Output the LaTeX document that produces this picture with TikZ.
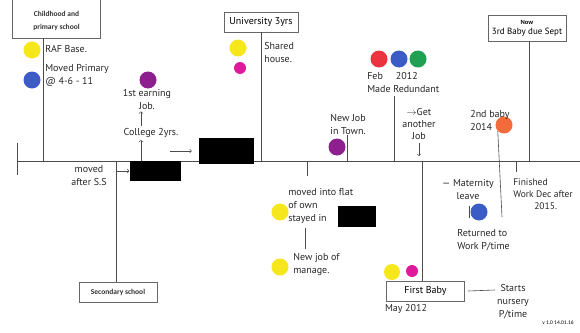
\documentclass[tikz,border=0pt]{standalone}
\usepackage{fontspec}
\setmainfont{Carlito}
\newfontfamily\handfont{PT Sans}
\usetikzlibrary{arrows}
\usetikzlibrary{shapes}

\definecolor{dotYellow}{HTML}{F6E71C}
\definecolor{dotBlue}{HTML}{3B5CC4}
\definecolor{dotPurple}{HTML}{8E1F8E}
\definecolor{dotMagenta}{HTML}{E0189C}
\definecolor{dotRed}{HTML}{EC3440}
\definecolor{dotGreen}{HTML}{1FA052}
\definecolor{dotOrange}{HTML}{F36B3A}

\begin{document}
\begin{tikzpicture}[x = 1pt, y = -1pt, font = \handfont\fontsize{10}{13}\selectfont, line width = 0.6pt]
	\tikzstyle{lineStyle} = [draw = black!70]
	\tikzstyle{boxStyle} = [shape = rectangle, draw = black!60, inner sep = 1pt]
	\tikzstyle{printStyle} = [font = \rmfamily\bfseries\fontsize{7.5}{12.5}\selectfont, align = center, text = black!80]
	\tikzstyle{handStyle} = [align = left, inner sep = 0pt, text = black!85]
	\tikzstyle{dotStyle} = [shape = circle, minimum size = 17pt, inner sep = 0pt]
	\tikzstyle{smallDotStyle} = [shape = circle, minimum size = 12pt, inner sep = 0pt]
	\tikzstyle{hiddenStyle} = [shape = rectangle, fill = black, inner sep = 0pt]
	\useasboundingbox (0,0) rectangle (580,332);
	\coordinate (tStart) at (17,161);
	\coordinate (tEnd) at (580,161);
	\coordinate (tChild) at (43,161);
	\coordinate (tSec) at (116,161);
	\coordinate (tFlat) at (307,161);
	\coordinate (tTown) at (347,161);
	\coordinate (tFeb) at (394,161);
	\coordinate (tFirst) at (422,161);
	\coordinate (tFinish) at (516,161);
	\coordinate (tNow) at (529,161);
	\coordinate (upA) at (141,0);
	\coordinate (flatLink) at (305,0);
	\coordinate (babyEnd) at (502,217);
	\draw[lineStyle] (tStart) -- (tEnd);
	\draw[lineStyle] ([yshift = 18pt]tStart) -- ([yshift = -14pt]tStart);
	% childhood and primary school
	\node[boxStyle, minimum width = 88pt, minimum height = 44pt] (childBox) at (56.5,16) {};
	\node[printStyle] (childText) at (56.5,21) {Childhood and\\primary school};
	\draw[lineStyle] (tChild |- childBox.south) -- (tChild);
	\node[dotStyle, fill = dotYellow] (rafDot) at (32,50) {};
	\node[dotStyle, fill = dotBlue] (primDot) at (32,80) {};
	\node[handStyle, anchor = west] (rafText) at (45,49) {RAF Base.};
	\node[handStyle, anchor = west] (primText) at (45,75) {Moved Primary\\@ 4-6 - 11};
	% secondary school
	\node[boxStyle, printStyle, minimum width = 78pt, minimum height = 20pt] (secBox) at (118,292) {Secondary school};
	\draw[lineStyle] (tSec) -- (tSec |- secBox.north);
	\node[handStyle, align = center] (movedText) at (89,176) {moved\\after S.S};
	\node[hiddenStyle, minimum width = 51pt, minimum height = 20pt] (hideA) at (155,171) {};
	\draw[lineStyle, ->] (tSec |- hideA.west) -- (hideA.west);
	\node[handStyle, align = center] (collegeText) at (151,133) {College 2yrs.};
	\node[dotStyle, fill = dotPurple] (earningDot) at (148,80) {};
	\node[handStyle, align = center] (earningText) at (147,99) {1st earning\\Job.};
	\draw[lineStyle, ->, shorten > = 2pt] (upA |- hideA.north) -- (upA |- collegeText.south);
	\draw[lineStyle, ->, shorten < = 2pt, shorten > = 2pt] (upA |- collegeText.north) -- (upA |- earningText.south);
	\node[hiddenStyle, minimum width = 55pt, minimum height = 26pt] (hideB) at (226.5,151) {};
	\draw[lineStyle, ->] ([xshift = -29pt]hideB.west) -- ([xshift = -7pt]hideB.west);
	% university
	\node[boxStyle, minimum width = 74pt, minimum height = 20pt] (uniBox) at (261,22) {University 3yrs};
	\draw[lineStyle] (uniBox.south) -- (uniBox.south |- tStart);
	\node[dotStyle, fill = dotYellow] (uniDot) at (238,48) {};
	\node[smallDotStyle, fill = dotMagenta] (uniDotB) at (240,68) {};
	\node[handStyle, anchor = west] (sharedText) at (264,52) {Shared\\house.};
	% flat and manager
	\draw[lineStyle] (tFlat) -- ++(0,15);
	\node[handStyle, anchor = west] (flatText) at (288,206) {moved into flat\\of own\\stayed in};
	\node[hiddenStyle, minimum width = 38pt, minimum height = 21pt] (hideC) at (357,216) {};
	\node[dotStyle, fill = dotYellow] (flatDot) at (280,212) {};
	\node[handStyle, anchor = west] (managerText) at (293,264) {New job of\\manage.};
	\node[dotStyle, fill = dotYellow] (managerDot) at (280,267) {};
	\draw[lineStyle] ([yshift = -4pt]flatLink |- flatText.south) -- ([yshift = 4pt]flatLink |- managerText.north);
	% new job in town
	\node[dotStyle, fill = dotPurple] (townDot) at (337,147) {};
	\node[handStyle, align = center] (townText) at (348,125) {New Job\\in Town.};
	\draw[lineStyle] (tTown) -- (tTown |- townText.south);
	% redundant
	\node[dotStyle, fill = dotRed] (febDotA) at (379,59) {};
	\node[dotStyle, fill = dotBlue] (febDotB) at (399,59) {};
	\node[dotStyle, fill = dotGreen] (febDotC) at (418,59) {};
	\node[handStyle, anchor = west] (febText) at (367,82) {Feb\hspace{13pt}2012\\Made Redundant};
	\draw[lineStyle] (tFeb) -- ([yshift = -4pt]tFeb |- febText.south);
	\node[handStyle, align = center, font = \handfont\fontsize{10}{12}\selectfont] (getText) at (419,124) {$\rightarrow$Get\\another\\Job};
	\draw[lineStyle, ->, shorten < = 3pt] (getText.south) -- ([yshift = 5pt]getText.south |- tStart);
	% first baby
	\node[boxStyle, minimum width = 78pt, minimum height = 20pt] (firstBox) at (425.5,291) {First Baby};
	\draw[lineStyle] (tFirst) -- (tFirst |- firstBox.north);
	\node[dotStyle, fill = dotYellow, minimum size = 16pt] (firstDot) at (392,272) {};
	\node[smallDotStyle, fill = dotMagenta] (firstDotB) at (412,271) {};
	\node[handStyle] (mayText) at (406,309) {May 2012};
	\node[handStyle, align = center] (startsText) at (513,302) {Starts\\nursery\\P/time};
	\draw[lineStyle] ([xshift = 3pt]firstBox.east) -- ([yshift = 12pt, xshift = -2pt]startsText.west);
	\node[handStyle, align = center] (maternityText) at (468,190) {— Maternity\\leave};
	% returned to work
	\node[dotStyle, fill = dotBlue] (returnedDot) at (479,212) {};
	\draw[lineStyle] ([xshift = -10pt, yshift = 6pt]returnedDot.center) -- ([xshift = -10pt, yshift = -6pt]returnedDot.center);
	\node[handStyle, anchor = west] (returnedText) at (457,240) {Returned to\\Work P/time};
	% second baby
	\node[dotStyle, fill = dotOrange] (babyDot) at (504,125) {};
	\node[handStyle, anchor = west] (babyText) at (470,120) {2nd baby\\2014};
	\draw[lineStyle] (babyDot.south west) -- (babyEnd);
	% finished work
	\draw[lineStyle] (tFinish) -- ++(0,11);
	\node[handStyle, anchor = west, font = \handfont\fontsize{9.5}{12}\selectfont] (finishedText) at (513,194) {Finished\\Work Dec after\\\hspace{21pt}2015.};
	% now
	\node[boxStyle, minimum width = 78pt, minimum height = 26pt, align = center, font = \handfont\fontsize{9}{10}\selectfont] (nowBox) at (527,28) {{\rmfamily\bfseries\fontsize{6.5}{9}\selectfont Now}\\3rd Baby due Sept};
	\draw[lineStyle] (tNow |- nowBox.south) -- (tNow);
	\node[font = \rmfamily\fontsize{5.5}{6}\selectfont, inner sep = 0pt] (versionText) at (558,323) {v 1.0 14.01.16};
\end{tikzpicture}
\end{document}
